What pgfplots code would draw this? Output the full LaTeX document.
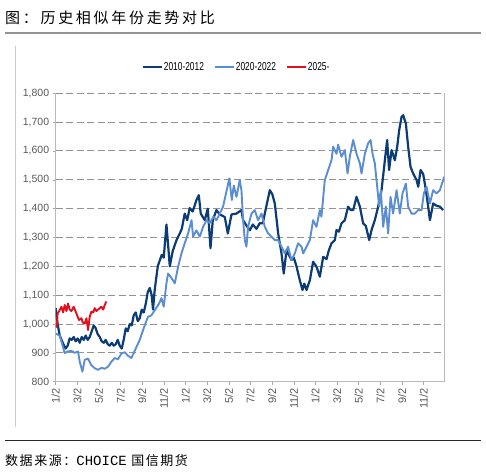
\documentclass[border=0pt]{standalone}
\usepackage{fontspec}
\setmainfont{Liberation Sans}
\setmonofont{Liberation Mono}
\newfontfamily\cjk[LetterSpace=12]{Noto Sans CJK SC}
\newfontfamily\cjktitle[LetterSpace=18]{Noto Sans CJK SC}
\usepackage{graphicx}
\usepackage{pgfplots}
\pgfplotsset{compat=1.18}
\definecolor{darkb}{HTML}{0B3C74}
\definecolor{lightb}{HTML}{5B8ED0}
\definecolor{redc}{HTML}{E0101C}
\definecolor{tickgray}{HTML}{595959}
\begin{document}
\begin{tikzpicture}
\useasboundingbox (0pt,0pt) rectangle (486pt,473pt);
\node[anchor=west,inner sep=0pt] at (5pt,455pt) {\cjktitle\fontsize{15}{15}\selectfont 图：历史相似年份走势对比};
\draw[line width=1.6pt, color=gray!85] (5pt,440pt) -- (481pt,440pt);
\draw[line width=0.6pt, color=gray!40] (15.7pt,427pt) -- (15.7pt,46pt);
\draw[line width=1.3pt, black!85] (5pt,32.3pt) -- (481pt,32.3pt);
\node[anchor=west, inner sep=0pt] at (5pt,12pt) {\fontsize{13}{13}\selectfont\cjk 数据来源：{\ttfamily\fontsize{14}{14}\selectfont CHOICE} 国信期货};
\begin{axis}[
  at={(55.7pt,91.3pt)}, anchor=south west,
  scale only axis, width=388.6pt, height=288.4pt,
  xmin=0, xmax=35.9, ymin=800, ymax=1800,
  axis x line*=bottom, axis y line*=box, ytick pos=left,
  axis line style={draw=gray!55, line width=0.8pt},
  ymajorgrids,
  major grid style={draw=gray!85, line width=1pt, dash pattern=on 7pt off 3.5pt},
  tick style={draw=gray!70, line width=0.6pt},
  tick align=outside, major tick length=3pt,
  xtick={0,2,...,34},
  xticklabels={1/2,3/2,5/2,7/2,9/2,11/2,1/2,3/2,5/2,7/2,9/2,11/2,1/2,3/2,5/2,7/2,9/2,11/2},
  xticklabel style={rotate=90, anchor=east, font=\fontsize{11}{11}\selectfont, text=tickgray},
  ytick={800,900,...,1800},
  yticklabel={\pgfmathprintnumber[assume math mode=true,1000 sep={,}]{\tick}},
  yticklabel style={font=\fontsize{10.5}{10.5}\selectfont, text=tickgray},
  legend style={at={(0.464,1.091)}, anchor=center, draw=none, fill=none,
    legend columns=3, font=\fontsize{11.5}{12}\selectfont,
    /tikz/every even column/.append style={column sep=9pt},
    nodes={inner xsep=1pt, inner ysep=1pt}},
  legend image code/.code={\draw[#1] (0pt,0pt) -- (19pt,0pt);},
]
\addplot[darkb, line width=2.2pt, line join=round] coordinates {
(0,1055)(0.18,1000)(0.37,960)(0.65,935)(0.92,915)(1.11,925)(1.29,950)(1.48,945)(1.66,955)(1.85,940)
(2.03,950)(2.22,935)(2.40,955)(2.59,945)(2.77,960)(2.96,945)(3.14,955)(3.33,975)(3.51,995)(3.70,985)
(3.88,965)(4.07,955)(4.25,940)(4.44,935)(4.62,945)(4.81,930)(4.99,925)(5.18,935)(5.36,925)(5.55,930)
(5.73,945)(5.91,925)(6.10,915)(6.28,945)(6.47,985)(6.65,975)(6.84,1000)(7.02,995)(7.21,1030)(7.39,1040)
(7.58,1010)(7.76,1020)(7.95,1050)(8.13,1040)(8.32,1070)(8.50,1110)(8.69,1125)(8.87,1100)(8.99,1050)(9.15,1120)
(9.43,1200)(9.61,1220)(9.80,1240)(9.98,1230)(10.23,1345)(10.35,1290)(10.54,1200)(10.81,1253)(11.16,1291)(11.46,1314)
(11.65,1330)(11.92,1383)(12.15,1360)(12.38,1402)(12.66,1390)(13.00,1430)(13.22,1447)(13.40,1383)(13.77,1360)(14.05,1400)
(14.30,1263)(14.51,1360)(14.85,1395)(15.16,1380)(15.62,1371)(15.90,1314)(16.24,1380)(16.70,1383)(17.16,1395)(17.31,1360)
(17.65,1340)(17.93,1325)(18.21,1345)(18.55,1330)(18.85,1350)(19.13,1349)(19.41,1400)(19.78,1464)(20.01,1450)(20.24,1418)
(20.55,1314)(20.86,1245)(21.07,1175)(21.32,1256)(21.53,1240)(21.78,1222)(22.00,1230)(22.25,1199)(22.55,1152)(22.80,1118)
(22.97,1140)(23.17,1118)(23.48,1152)(23.78,1216)(24.09,1199)(24.40,1164)(24.71,1233)(25.02,1225)(25.23,1255)(25.48,1280)
(25.79,1291)(25.94,1326)(26.16,1320)(26.40,1349)(26.71,1360)(27.01,1407)(27.26,1395)(27.48,1395)(27.79,1441)(28.10,1407)
(28.40,1349)(28.65,1340)(28.96,1291)(29.18,1326)(29.48,1360)(29.79,1407)(30.10,1464)(30.41,1568)(30.62,1638)(30.80,1534)
(31.03,1603)(31.33,1568)(31.55,1615)(31.73,1672)(31.95,1718)(32.10,1724)(32.35,1695)(32.56,1615)(32.78,1545)(33.02,1522)
(33.34,1499)(33.49,1476)(33.71,1534)(33.95,1520)(34.20,1464)(34.41,1407)(34.57,1360)(34.87,1418)(35.19,1410)(35.49,1407)
(35.79,1395)
};
\addlegendentry{\scalebox{0.73}[1]{2010-2012}}
\addplot[lightb, line width=1.9pt, line join=round] coordinates {
(0,967)(0.37,960)(0.60,930)(0.83,899)(1.11,905)(1.45,907)(1.76,900)(2.06,905)(2.22,869)(2.47,835)
(2.68,876)(2.99,880)(3.30,857)(3.60,847)(3.91,841)(4.22,848)(4.53,845)(4.83,852)(5.14,869)(5.45,882)
(5.76,878)(6.07,898)(6.38,902)(6.68,890)(6.99,882)(7.30,907)(7.76,945)(8.23,996)(8.53,1025)(8.84,1030)
(9.15,1048)(9.55,1071)(9.77,1090)(9.98,1060)(10.23,1141)(10.38,1175)(10.69,1160)(11.00,1141)(11.31,1199)(11.62,1245)
(11.92,1280)(12.23,1314)(12.55,1360)(12.69,1303)(13.00,1325)(13.31,1303)(13.62,1337)(13.93,1360)(14.23,1350)(14.57,1372)
(14.85,1360)(15.16,1383)(15.46,1407)(15.80,1464)(16.04,1505)(16.27,1430)(16.45,1480)(16.70,1441)(17.00,1499)(17.16,1464)
(17.31,1360)(17.47,1291)(17.62,1268)(17.77,1337)(18.09,1383)(18.39,1395)(18.70,1360)(19.01,1383)(19.32,1337)(19.62,1314)
(19.94,1303)(20.24,1291)(20.55,1291)(20.86,1268)(21.16,1245)(21.47,1268)(21.78,1222)(22.09,1245)(22.39,1280)(22.71,1268)
(22.86,1245)(23.17,1268)(23.48,1291)(23.78,1360)(24.09,1337)(24.40,1395)(24.55,1372)(24.86,1499)(25.17,1534)(25.48,1568)
(25.63,1615)(25.94,1590)(26.09,1622)(26.40,1580)(26.71,1603)(26.96,1522)(27.17,1580)(27.48,1638)(27.79,1590)(28.10,1557)
(28.25,1522)(28.56,1590)(28.87,1627)(29.09,1638)(29.27,1590)(29.48,1557)(29.70,1476)(29.88,1407)(30.04,1464)(30.25,1337)
(30.50,1407)(30.71,1314)(30.93,1441)(31.17,1383)(31.49,1464)(31.79,1383)(32.04,1453)(32.35,1487)(32.56,1407)(32.87,1383)
(33.18,1383)(33.49,1395)(33.80,1395)(34.01,1453)(34.26,1476)(34.57,1418)(34.87,1464)(35.19,1453)(35.49,1464)(35.79,1499)
(35.9,1511)
};
\addlegendentry{\scalebox{0.73}[1]{2020-2022}}
\addplot[redc, line width=1.9pt, line join=round] coordinates {
(0,996)(0.09,990)(0.18,1037)(0.37,1048)(0.53,1060)(0.69,1040)(0.83,1066)(0.99,1045)(1.14,1071)(1.29,1050)
(1.45,1045)(1.66,1060)(1.91,1037)(2.15,1014)(2.38,1020)(2.50,1005)(2.68,1002)(2.84,1020)(2.99,979)(3.14,1025)
(3.30,1043)(3.47,1040)(3.60,1055)(3.76,1045)(3.91,1050)(4.07,1055)(4.22,1060)(4.39,1050)(4.53,1066)(4.68,1078)
};
\addlegendentry{\scalebox{0.73}[1]{2025-}}
\end{axis}
\end{tikzpicture}
\end{document}
